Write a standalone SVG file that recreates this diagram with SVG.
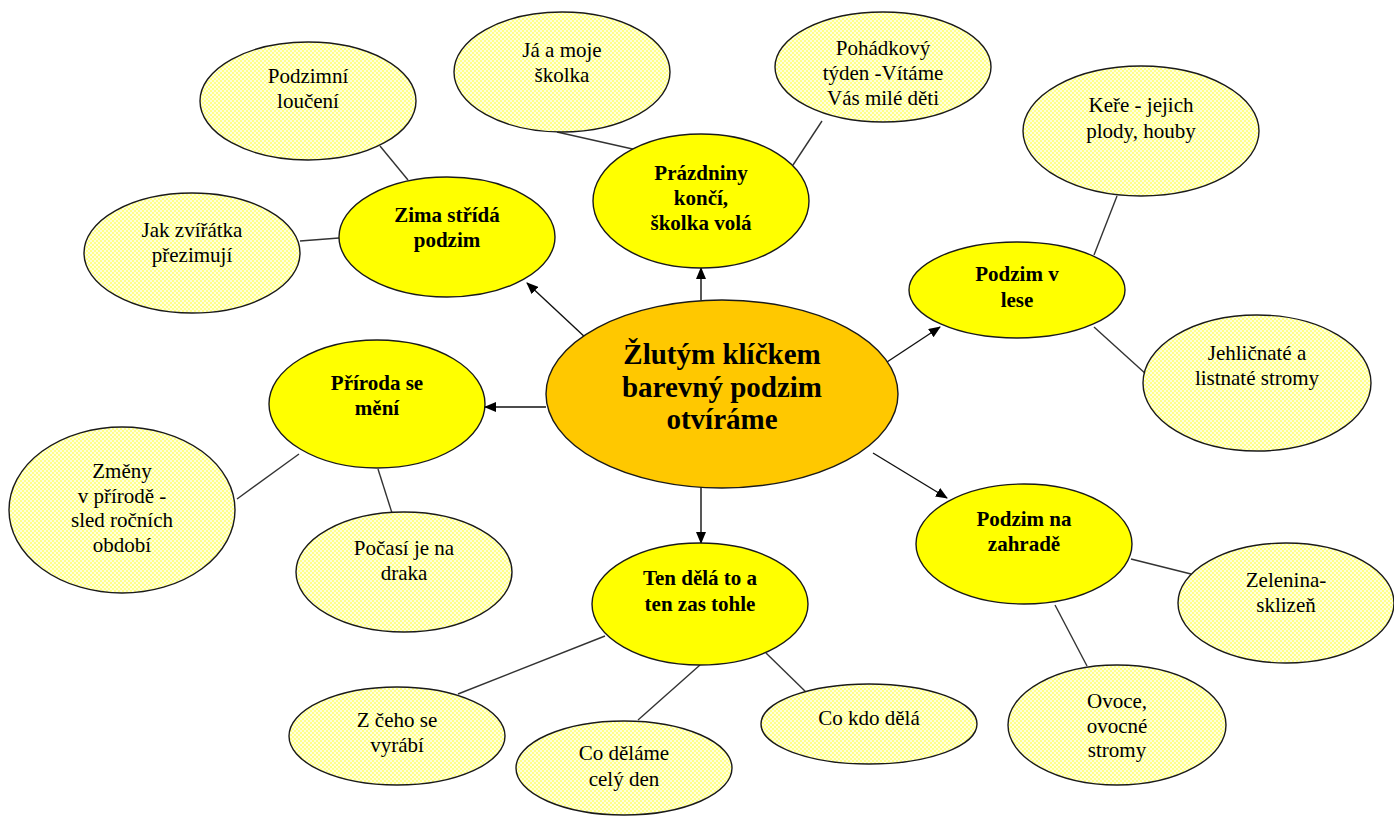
<svg xmlns="http://www.w3.org/2000/svg" width="1394" height="816" viewBox="0 0 1394 816">
<defs>
<pattern id="chk" width="4" height="4" patternUnits="userSpaceOnUse">
<rect width="4" height="4" fill="#FFFFDC"/>
<rect width="2" height="2" fill="#FFFF8A"/>
<rect x="2" y="2" width="2" height="2" fill="#FFFF8A"/>
</pattern>
<marker id="ah" markerUnits="userSpaceOnUse" markerWidth="12" markerHeight="10" refX="11" refY="5" orient="auto">
<path d="M0,0 L12,5 L0,10 Z" fill="#000"/>
</marker>
</defs>
<style>
.sub{fill:url(#chk);stroke:#1a1a1a;stroke-width:1.4}
.main{fill:#FFFF00;stroke:#1a1a1a;stroke-width:1.4}
.core{fill:#FFC800;stroke:#1a1a1a;stroke-width:1.4}
text{font-size:21px;fill:#000;text-anchor:middle}
.b{font-weight:bold}
.c{font-size:29px}
.ln{stroke:#333;stroke-width:1.4;fill:none}
.ar{stroke:#111;stroke-width:1.4;fill:none;marker-end:url(#ah)}
</style>
<rect width="1394" height="816" fill="#fff"/>
<g id="connectors">
<line class="ln" x1="380" y1="146" x2="408" y2="180"/>
<line class="ln" x1="300" y1="241" x2="339" y2="238"/>
<line class="ln" x1="557" y1="132" x2="637" y2="150"/>
<line class="ln" x1="822" y1="121" x2="793" y2="165"/>
<line class="ln" x1="1117" y1="196" x2="1094" y2="255"/>
<line class="ln" x1="1094" y1="327" x2="1147" y2="375"/>
<line class="ln" x1="1131" y1="559" x2="1191" y2="574"/>
<line class="ln" x1="1055" y1="605" x2="1087" y2="666"/>
<line class="ln" x1="605" y1="636" x2="458" y2="694"/>
<line class="ln" x1="700" y1="665" x2="638" y2="720"/>
<line class="ln" x1="766" y1="653" x2="809" y2="695"/>
<line class="ln" x1="299" y1="454" x2="237" y2="499"/>
<line class="ln" x1="378" y1="469" x2="392" y2="513"/>
<line class="ar" x1="701" y1="300" x2="701" y2="268"/>
<line class="ar" x1="587" y1="339" x2="527" y2="283"/>
<line class="ar" x1="546" y1="407" x2="485" y2="407"/>
<line class="ar" x1="887" y1="362" x2="940" y2="327"/>
<line class="ar" x1="873" y1="453" x2="947" y2="498"/>
<line class="ar" x1="701" y1="487" x2="701" y2="543"/>
</g>
<g font-family="Liberation Serif, serif">
<g id="center">
<ellipse class="core" cx="722" cy="394" rx="176" ry="94"/>
<text class="b c" x="722" y="364">Žlutým klíčkem</text>
<text class="b c" x="722" y="397">barevný podzim</text>
<text class="b c" x="722" y="429">otvíráme</text>
</g>
<g id="prazdniny">
<ellipse class="main" cx="701" cy="201" rx="108" ry="67"/>
<text class="b" x="701" y="180">Prázdniny</text>
<text class="b" x="701" y="205">končí,</text>
<text class="b" x="701" y="230">školka volá</text>
</g>
<g id="zima">
<ellipse class="main" cx="447" cy="237" rx="108" ry="60"/>
<text class="b" x="447" y="222">Zima střídá</text>
<text class="b" x="447" y="247">podzim</text>
</g>
<g id="priroda">
<ellipse class="main" cx="377" cy="404" rx="108" ry="64"/>
<text class="b" x="377" y="390">Příroda se</text>
<text class="b" x="377" y="415">mění</text>
</g>
<g id="les">
<ellipse class="main" cx="1017" cy="290" rx="108" ry="48"/>
<text class="b" x="1017" y="281">Podzim v</text>
<text class="b" x="1017" y="307">lese</text>
</g>
<g id="zahrada">
<ellipse class="main" cx="1024" cy="544" rx="108" ry="60"/>
<text class="b" x="1024" y="526">Podzim na</text>
<text class="b" x="1024" y="551">zahradě</text>
</g>
<g id="ten">
<ellipse class="main" cx="700" cy="604" rx="108" ry="61"/>
<text class="b" x="700" y="585">Ten dělá to a</text>
<text class="b" x="700" y="611">ten zas tohle</text>
</g>
<g id="podzimni">
<ellipse class="sub" cx="308" cy="101" rx="108" ry="59"/>
<text x="308" y="83">Podzimní</text>
<text x="308" y="108">loučení</text>
</g>
<g id="zviratka">
<ellipse class="sub" cx="192" cy="253" rx="108" ry="60"/>
<text x="192" y="237">Jak zvířátka</text>
<text x="192" y="262">přezimují</text>
</g>
<g id="skolka">
<ellipse class="sub" cx="562" cy="72" rx="108" ry="60"/>
<text x="562" y="57">Já a moje</text>
<text x="562" y="82">školka</text>
</g>
<g id="pohadka">
<ellipse class="sub" cx="883" cy="67" rx="108" ry="55"/>
<text x="883" y="55">Pohádkový</text>
<text x="883" y="80">týden -Vítáme</text>
<text x="883" y="105">Vás milé děti</text>
</g>
<g id="kere">
<ellipse class="sub" cx="1141" cy="131" rx="118" ry="65"/>
<text x="1141" y="112">Keře - jejich</text>
<text x="1141" y="138">plody, houby</text>
</g>
<g id="stromy">
<ellipse class="sub" cx="1257" cy="383" rx="114" ry="68"/>
<text x="1257" y="360">Jehličnaté a</text>
<text x="1257" y="385">listnaté stromy</text>
</g>
<g id="zelenina">
<ellipse class="sub" cx="1286" cy="603" rx="108" ry="60"/>
<text x="1286" y="587">Zelenina-</text>
<text x="1286" y="612">sklizeň</text>
</g>
<g id="ovoce">
<ellipse class="sub" cx="1117" cy="725" rx="109" ry="60"/>
<text x="1117" y="708">Ovoce,</text>
<text x="1117" y="733">ovocné</text>
<text x="1117" y="757">stromy</text>
</g>
<g id="cokdo">
<ellipse class="sub" cx="869" cy="724" rx="108" ry="40"/>
<text x="869" y="725">Co kdo dělá</text>
</g>
<g id="celyden">
<ellipse class="sub" cx="624" cy="768" rx="108" ry="47"/>
<text x="624" y="760">Co děláme</text>
<text x="624" y="786">celý den</text>
</g>
<g id="zceho">
<ellipse class="sub" cx="397" cy="736" rx="108" ry="49"/>
<text x="397" y="727">Z čeho se</text>
<text x="397" y="752">vyrábí</text>
</g>
<g id="pocasi">
<ellipse class="sub" cx="404" cy="572" rx="108" ry="60"/>
<text x="404" y="555">Počasí je na</text>
<text x="404" y="580">draka</text>
</g>
<g id="zmeny">
<ellipse class="sub" cx="122" cy="510" rx="113" ry="83"/>
<text x="122" y="478">Změny</text>
<text x="122" y="503">v přírodě -</text>
<text x="122" y="527">sled ročních</text>
<text x="122" y="552">období</text>
</g>
</g>
</svg>
